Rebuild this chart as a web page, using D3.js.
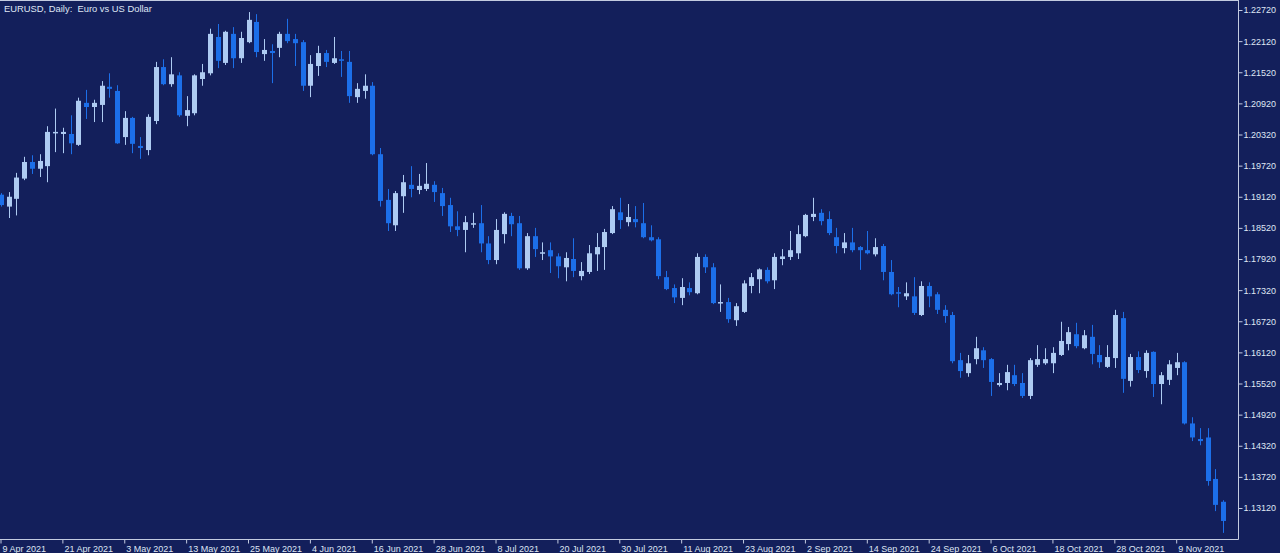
<!DOCTYPE html>
<html>
<head>
<meta charset="utf-8">
<script src="https://cdn.jsdelivr.net/npm/d3@7"></script>
<style>
  html, body { margin: 0; padding: 0; background: #131f5b; overflow: hidden; }
  text { font-family: "Liberation Sans", Arial, sans-serif; }
</style>
</head>
<body>
<script>
const WIDTH = 1280
const HEIGHT = 553

// EURUSD daily, 9 Apr 2021 -> 17 Nov 2021 (one bar per weekday)
const startDate = "2021-04-09"

const open = [
  1.1916,1.1893,1.1908,1.1947,1.1979,1.1966,1.1971,1.2035,1.2033,1.2033,
  1.2012,1.2093,1.2085,1.2089,1.2124,1.2116,1.2027,1.2064,1.2010,1.2002,
  1.2058,1.2162,1.2129,1.2146,1.2068,1.2073,1.2139,1.2150,1.2220,1.2170,
  1.2226,1.2179,1.2210,1.2249,1.2187,1.2193,1.2199,1.2226,1.2216,1.2210,
  1.2126,1.2164,1.2189,1.2170,1.2177,1.2172,1.2104,1.2116,1.2126,1.1994,
  1.1906,1.1857,1.1913,1.1935,1.1925,1.1927,1.1935,1.1919,1.1896,1.1855,
  1.1848,1.1859,1.1861,1.1822,1.1790,1.1840,1.1875,1.1861,1.1774,1.1836,
  1.1803,1.1809,1.1797,1.1776,1.1792,1.1759,1.1767,1.1801,1.1815,1.1842,
  1.1882,1.1863,1.1869,1.1861,1.1834,1.1830,1.1757,1.1736,1.1717,1.1736,
  1.1726,1.1796,1.1776,1.1707,1.1709,1.1674,1.1690,1.1740,1.1753,1.1771,
  1.1751,1.1792,1.1796,1.1803,1.1836,1.1873,1.1881,1.1869,1.1834,1.1813,
  1.1824,1.1815,1.1809,1.1801,1.1817,1.1767,1.1728,1.1720,1.1720,1.1684,
  1.1740,1.1724,1.1694,1.1684,1.1597,1.1572,1.1599,1.1616,1.1599,1.1549,
  1.1553,1.1568,1.1553,1.1528,1.1588,1.1591,1.1591,1.1607,1.1628,1.1647,
  1.1620,1.1642,1.1607,1.1584,1.1601,1.1678,1.1557,1.1603,1.1576,1.1613,
  1.1551,1.1559,1.1582,1.1593,1.1475,1.1445,1.1448,1.1368,1.1324
]

const high = [
  1.1919,1.1921,1.1958,1.1989,1.1992,1.1994,1.2048,1.2082,1.2045,1.2069,
  1.2103,1.2118,1.2099,1.2135,1.2150,1.2127,1.2077,1.2066,1.2027,1.2071,
  1.2172,1.2177,1.2181,1.2152,1.2106,1.2148,1.2168,1.2236,1.2245,1.2232,
  1.2239,1.2230,1.2268,1.2264,1.2216,1.2206,1.2230,1.2255,1.2226,1.2214,
  1.2185,1.2203,1.2195,1.2220,1.2193,1.2193,1.2131,1.2148,1.2133,1.2006,
  1.1927,1.1923,1.1954,1.1971,1.1956,1.1977,1.1942,1.1929,1.1910,1.1884,
  1.1875,1.1881,1.1896,1.1836,1.1869,1.1882,1.1881,1.1875,1.1842,1.1852,
  1.1824,1.1824,1.1803,1.1805,1.1832,1.1786,1.1819,1.1842,1.1850,1.1894,
  1.1910,1.1898,1.1894,1.1900,1.1857,1.1834,1.1769,1.1743,1.1755,1.1747,
  1.1803,1.1801,1.1784,1.1743,1.1717,1.1707,1.1751,1.1765,1.1774,1.1776,
  1.1803,1.1811,1.1846,1.1857,1.1879,1.1910,1.1888,1.1884,1.1852,1.1842,
  1.1852,1.1817,1.1846,1.1832,1.1821,1.1790,1.1738,1.1747,1.1757,1.1749,
  1.1747,1.1728,1.1703,1.1690,1.1611,1.1607,1.1642,1.1622,1.1601,1.1572,
  1.1588,1.1588,1.1572,1.1601,1.1626,1.1620,1.1622,1.1671,1.1661,1.1669,
  1.1655,1.1665,1.1626,1.1626,1.1694,1.1690,1.1609,1.1614,1.1616,1.1614,
  1.1574,1.1597,1.1611,1.1595,1.1487,1.1466,1.1466,1.1387,1.1327
]

const low = [
  1.1893,1.1871,1.1876,1.1944,1.1956,1.1950,1.1940,1.1998,1.1996,1.1994,
  1.2010,1.2062,1.2056,1.2056,1.2103,1.2014,1.2012,1.1996,1.1985,1.1992,
  1.2052,1.2127,1.2124,1.2066,1.2048,1.2069,1.2126,1.2146,1.2160,1.2166,
  1.2160,1.2170,1.2208,1.2181,1.2174,1.2131,1.2181,1.2208,1.2164,1.2116,
  1.2104,1.2145,1.2162,1.2168,1.2143,1.2093,1.2093,1.2101,1.1992,1.1893,
  1.1846,1.1846,1.1881,1.1911,1.1917,1.1923,1.1902,1.1875,1.1844,1.1836,
  1.1805,1.1852,1.1805,1.1782,1.1782,1.1822,1.1836,1.1771,1.1771,1.1796,
  1.1790,1.1765,1.1755,1.1749,1.1757,1.1751,1.1763,1.1769,1.1771,1.1840,
  1.1850,1.1855,1.1853,1.1832,1.1826,1.1753,1.1732,1.1707,1.1703,1.1722,
  1.1724,1.1765,1.1705,1.1690,1.1669,1.1663,1.1688,1.1726,1.1726,1.1745,
  1.1734,1.1780,1.1790,1.1792,1.1834,1.1865,1.1857,1.1838,1.1803,1.1803,
  1.1805,1.1771,1.1801,1.1797,1.1751,1.1722,1.1699,1.1713,1.1684,1.1682,
  1.1699,1.1686,1.1669,1.1591,1.1563,1.1565,1.1589,1.1582,1.1528,1.1546,
  1.1539,1.1547,1.1524,1.1522,1.1584,1.1588,1.1572,1.1605,1.1616,1.1620,
  1.1618,1.1589,1.1582,1.1582,1.1582,1.1534,1.1546,1.1572,1.1563,1.1526,
  1.1512,1.1549,1.1568,1.1473,1.1441,1.1433,1.1355,1.1306,1.1264
]

const close = [
  1.1896,1.1912,1.1949,1.1979,1.1966,1.1981,1.2037,1.2037,1.2037,1.2015,
  1.2097,1.2085,1.2093,1.2126,1.2120,1.2015,1.2064,1.2014,1.2006,1.2066,
  1.2162,1.2129,1.2148,1.2069,1.2079,1.2146,1.2152,1.2226,1.2174,1.2230,
  1.2179,1.2218,1.2253,1.2191,1.2195,1.2189,1.2226,1.2212,1.2208,1.2126,
  1.2168,1.2189,1.2172,1.2179,1.2174,1.2106,1.2120,1.2126,1.1994,1.1904,
  1.1861,1.1919,1.1940,1.1927,1.1933,1.1937,1.1921,1.1894,1.1855,1.1848,
  1.1863,1.1861,1.1822,1.1790,1.1848,1.1879,1.1859,1.1774,1.1836,1.1811,
  1.1805,1.1797,1.1778,1.1794,1.1769,1.1769,1.1803,1.1815,1.1844,1.1888,
  1.1867,1.1873,1.1863,1.1834,1.1828,1.1759,1.1734,1.1718,1.1738,1.1728,
  1.1796,1.1776,1.1707,1.1709,1.1676,1.1701,1.1745,1.1757,1.1772,1.1749,
  1.1796,1.1797,1.1809,1.1840,1.1877,1.1879,1.1865,1.1842,1.1817,1.1824,
  1.1809,1.1809,1.1803,1.1815,1.1767,1.1724,1.1726,1.1726,1.1688,1.1740,
  1.1720,1.1694,1.1682,1.1595,1.1576,1.1591,1.1620,1.1597,1.1555,1.1553,
  1.1574,1.1551,1.1528,1.1597,1.1599,1.1599,1.1611,1.1634,1.1651,1.1624,
  1.1645,1.1609,1.1593,1.1603,1.1684,1.1561,1.1603,1.1578,1.1611,1.1551,
  1.1568,1.1589,1.1593,1.1475,1.1448,1.1441,1.1364,1.1318,1.1287
]

// price grid on the right
const priceTicks = [1.22720,1.22120,1.21520,1.20920,1.20320,1.19720,1.19120,1.18520,1.17920,
  1.17320,1.16720,1.16120,1.15520,1.14920,1.14320,1.13720,1.13120]

// a date label every 8 bars
const tickLabels = ["9 Apr 2021","21 Apr 2021","3 May 2021","13 May 2021","25 May 2021","4 Jun 2021",
  "16 Jun 2021","28 Jun 2021","8 Jul 2021","20 Jul 2021","30 Jul 2021","11 Aug 2021","23 Aug 2021",
  "2 Sep 2021","14 Sep 2021","24 Sep 2021","6 Oct 2021","18 Oct 2021","28 Oct 2021","9 Nov 2021"]
const tickEvery = 8

const BULL = "#aecbf2"
const BEAR = "#1c6fe9"
const FRAME = "#c3cbe0"
const TXT = "#dfe6f4"

const plotRight = 1238
const plotBottom = 539

// one date per weekday, only used as the bar category
const dates = []
let d = new Date(startDate + "T00:00:00")
while (dates.length < close.length) {
  if (d.getDay() !== 0 && d.getDay() !== 6) dates.push(new Date(d))
  d.setDate(d.getDate() + 1)
}
const bars = dates.map((date, i) => ({ i, date, o: open[i], h: high[i], l: low[i], c: close[i] }))

const svg = d3.select("body")
    .append("svg")
    .attr("width", WIDTH)
    .attr("height", HEIGHT)
    .style("display", "block")

svg.append("rect")
    .attr("width", WIDTH)
    .attr("height", HEIGHT)
    .attr("fill", "#131f5b")

const x = d3.scaleLinear()
    .domain([0, bars.length - 1])
    .range([1, 1223.1])

const y = d3.scaleLinear()
    .domain([1.1312, 1.2272])
    .range([508, 10])

const plot = svg.append("g")

// wicks
plot.selectAll("line.wick")
    .data(bars)
    .enter()
    .append("line")
    .attr("class", "wick")
    .attr("x1", b => Math.round(x(b.i)) + 0.5)
    .attr("x2", b => Math.round(x(b.i)) + 0.5)
    .attr("y1", b => y(Math.max(b.h, b.o, b.c)))
    .attr("y2", b => y(Math.min(b.l, b.o, b.c)))
    .attr("stroke", b => b.c >= b.o ? BULL : BEAR)
    .attr("stroke-width", 1)

// bodies
plot.selectAll("rect.body")
    .data(bars)
    .enter()
    .append("rect")
    .attr("class", "body")
    .attr("x", b => Math.round(x(b.i)) - 2)
    .attr("width", 5)
    .attr("y", b => y(Math.max(b.o, b.c)))
    .attr("height", b => Math.max(1.5, Math.abs(y(b.o) - y(b.c))))
    .attr("fill", b => b.c >= b.o ? BULL : BEAR)

// frame
svg.append("line").attr("x1", 0).attr("x2", plotRight).attr("y1", 0.5).attr("y2", 0.5)
    .attr("stroke", FRAME)
svg.append("line").attr("x1", 0).attr("x2", plotRight + 0.5).attr("y1", plotBottom + 0.5).attr("y2", plotBottom + 0.5)
    .attr("stroke", FRAME)

// price axis
const yAxis = svg.append("g")
    .attr("transform", `translate(${plotRight + 0.5},0)`)
    .call(d3.axisRight(y).tickValues(priceTicks).tickFormat(d3.format(".5f")).tickSize(4).tickPadding(1))
yAxis.select(".domain").attr("d", `M0,0V${plotBottom + 0.5}`).attr("stroke", FRAME)
yAxis.selectAll(".tick line").attr("stroke", FRAME)
yAxis.selectAll(".tick text")
    .attr("fill", TXT)
    .style("font-size", "9px")
    .style("font-family", "'Liberation Sans', Arial, sans-serif")

// date axis
const tickIdx = tickLabels.map((t, k) => k * tickEvery)
const xAxis = svg.append("g")
    .attr("transform", `translate(0,${plotBottom + 0.5})`)
    .call(d3.axisBottom(x).tickValues(tickIdx).tickFormat((v, k) => tickLabels[k]).tickSize(4))
xAxis.select(".domain").remove()
xAxis.selectAll(".tick line").attr("stroke", FRAME)
    .attr("transform", "translate(-0.5,0)")
xAxis.selectAll(".tick text")
    .attr("fill", TXT)
    .attr("text-anchor", "start")
    .attr("x", 1)
    .attr("y", 4)
    .attr("dy", "0.9em")
    .style("font-size", "9px")
    .style("font-family", "'Liberation Sans', Arial, sans-serif")

// title
svg.append("text")
    .text("EURUSD, Daily:  Euro vs US Dollar")
    .attr("x", 4)
    .attr("y", 12)
    .attr("fill", TXT)
    .style("font-size", "9.4px")
    .style("white-space", "pre")
    .attr("xml:space", "preserve")
</script>
</body>
</html>
